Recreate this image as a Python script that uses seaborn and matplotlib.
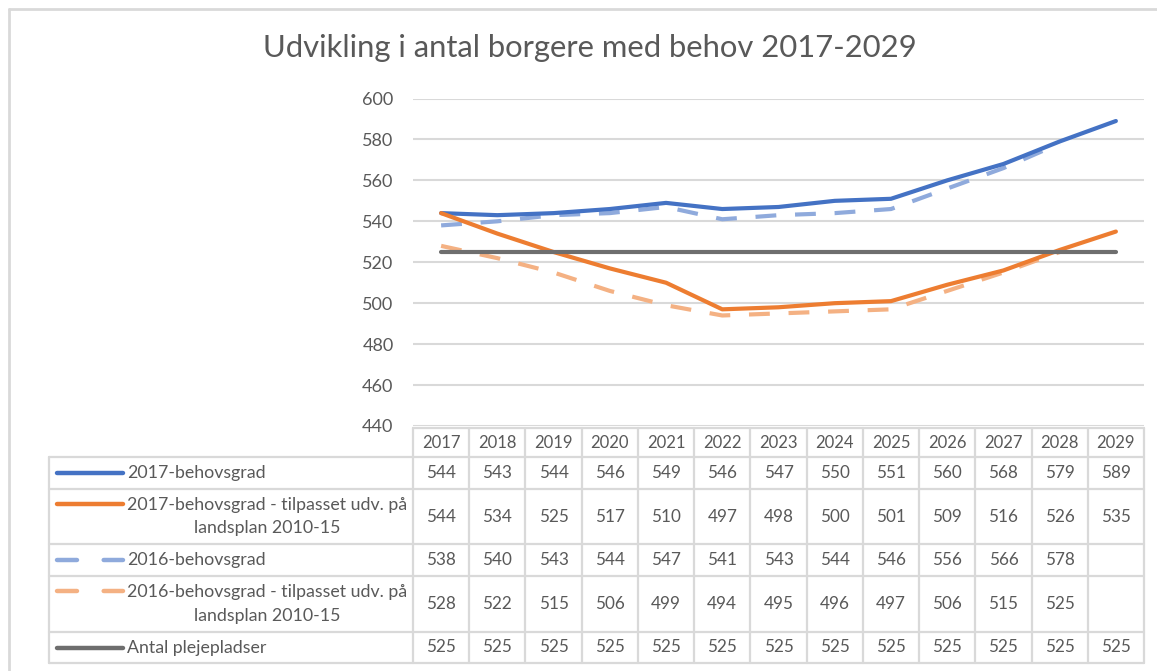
import matplotlib
matplotlib.use("Agg")
import matplotlib.pyplot as plt
import seaborn as sns
import numpy as np
import pandas as pd

years = [2017, 2018, 2019, 2020, 2021, 2022, 2023, 2024, 2025, 2026, 2027, 2028, 2029]
s2017 = [544, 543, 544, 546, 549, 546, 547, 550, 551, 560, 568, 579, 589]
s2017_adj = [544, 534, 525, 517, 510, 497, 498, 500, 501, 509, 516, 526, 535]
s2016 = [538, 540, 543, 544, 547, 541, 543, 544, 546, 556, 566, 578, None]
s2016_adj = [528, 522, 515, 506, 499, 494, 495, 496, 497, 506, 515, 525, None]
pladser = [525, 525, 525, 525, 525, 525, 525, 525, 525, 525, 525, 525, 525]

names = ["2017-behovsgrad",
         "2017-behovsgrad - tilpasset udv. på\nlandsplan 2010-15",
         "2016-behovsgrad",
         "2016-behovsgrad - tilpasset udv. på\nlandsplan 2010-15",
         "Antal plejepladser"]
series = [s2017, s2017_adj, s2016, s2016_adj, pladser]
colors = ["#4472C4", "#ED7D31", "#8FAADC", "#F4B183", "#6E6E6E"]
dashed = [False, False, True, True, False]
title = "Udvikling i antal borgere med behov 2017-2029"
yticks = [440, 460, 480, 500, 520, 540, 560, 580, 600]

sns.set_theme(style="white")
plt.rcParams["font.family"] = ["Lato", "DejaVu Sans"]
TXT = "#595959"
GRID = "#D9D9D9"

W, H = 1157, 671
fig = plt.figure(figsize=(W / 100, H / 100), dpi=100)

# chart border (top/left visible)
fig.add_artist(plt.Line2D([9 / W, 9 / W], [0, 1 - 9 / H], color=GRID, lw=2))
fig.add_artist(plt.Line2D([9 / W, 1], [1 - 9 / H, 1 - 9 / H], color=GRID, lw=2))

L, R, T, B = 413, 1144, 98.5, 426
ax = fig.add_axes([L / W, 1 - B / H, (R - L) / W, (B - T) / H])
xpos = np.arange(len(years))
DASH = (5, 4.5)
for name, vals, c, d in zip(names, series, colors, dashed):
    df = pd.DataFrame({"x": xpos, "y": pd.array(vals, dtype="Float64").astype(float)})
    df = df.dropna()
    sns.lineplot(data=df, x="x", y="y", ax=ax, color=c, lw=3.0,
                 linestyle=(0, DASH) if d else "-", zorder=3 if not d else 2.5)
ax.set_xlim(-0.5, len(years) - 0.5)
ax.set_ylim(440, 600)
ax.set_yticks(yticks)
ax.set_yticklabels([str(v) for v in yticks], fontsize=13, color=TXT)
ax.set_xticks([])
ax.set_xlabel("")
ax.set_ylabel("")
ax.tick_params(axis="y", length=0, pad=14)
for v in yticks:
    ax.axhline(v, color=GRID, lw=1.5, zorder=1)
for sp in ax.spines.values():
    sp.set_visible(False)
ax.patch.set_alpha(0)

fig.text(590 / W, 1 - 48 / H, title, ha="center", va="center", fontsize=22.3, color=TXT)

# data table
TL, TT, TB = 49, 428, 663
colw = (R - L) / len(years)
x0 = -0.5 - (L - TL) / colw
tax = fig.add_axes([TL / W, 1 - TB / H, (R - TL) / W, (TB - TT) / H])
tax.set_xlim(x0, len(years) - 0.5)
tax.set_ylim(TB, TT)
tax.axis("off")

def px2x(px):
    return x0 + (px - TL) / colw

rows = [457, 489, 544, 576, 632, 663]
tax.plot([-0.5, len(years) - 0.5], [TT, TT], color=GRID, lw=1.6, clip_on=False)
for yb in rows:
    tax.plot([x0, len(years) - 0.5], [yb, yb], color=GRID, lw=1.6, clip_on=False)
for k in range(len(years) + 1):
    tax.plot([-0.5 + k, -0.5 + k], [TT, TB], color=GRID, lw=1.6, clip_on=False)
tax.plot([x0, x0], [rows[0], TB], color=GRID, lw=1.6, clip_on=False)

for i, yr in enumerate(years):
    tax.text(i, (TT + rows[0]) / 2, str(yr), ha="center", va="center", fontsize=12, color=TXT)

for r, (name, vals, c, d) in enumerate(zip(names, series, colors, dashed)):
    top, bot = rows[r], rows[r + 1]
    yc = (top + bot) / 2
    for i, v in enumerate(vals):
        if v is not None:
            tax.text(i, yc, str(v), ha="center", va="center", fontsize=12.3, color=TXT)
    ky = yc - 13 if "\n" in name else yc
    tax.plot([px2x(57), px2x(123)], [ky, ky], color=c, lw=3.2,
             linestyle=(0, (4.5, 6)) if d else "-", solid_capstyle="round",
             dash_capstyle="round", clip_on=False)
    tax.text(px2x(127), yc, name, ha="left", va="center", multialignment="center",
             fontsize=12.8, color=TXT, linespacing=1.6)

fig.savefig("out.png", dpi=100)
